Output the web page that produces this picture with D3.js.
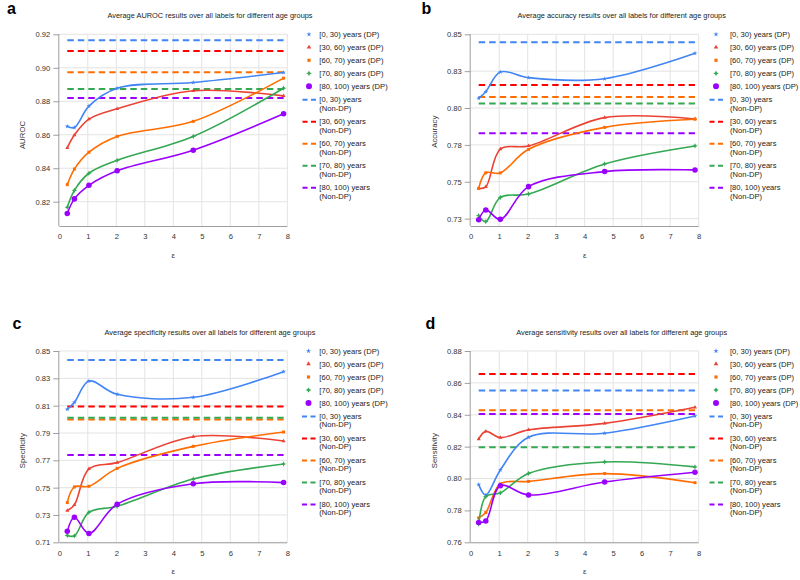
<!DOCTYPE html>
<html><head><meta charset="utf-8">
<script src="https://cdn.jsdelivr.net/npm/d3@7"></script>
<style>
html,body{margin:0;padding:0;background:#fff;}
svg{display:block;font-family:"Liberation Sans",Arial,sans-serif;}
</style></head>
<body><svg id="chart" width="800" height="580"></svg>
<script>
// ---------------- data ----------------
const epsilons = [0.28, 0.53, 1.04, 2.03, 4.70, 7.87];
const groups = ["[0, 30) years", "[30, 60) years", "[60, 70) years", "[70, 80) years", "[80, 100) years"];
const xTicks = [0, 1, 2, 3, 4, 5, 6, 7, 8];

// a: AUROC
const aurocDP0_30 = [0.8650, 0.8643, 0.8771, 0.8878, 0.8912, 0.8972];
const aurocDP30_60 = [0.8522, 0.8598, 0.8693, 0.8755, 0.8863, 0.8832];
const aurocDP60_70 = [0.8302, 0.8395, 0.8496, 0.8590, 0.8680, 0.8938];
const aurocDP70_80 = [0.8167, 0.8268, 0.8370, 0.8447, 0.8590, 0.8878];
const aurocDP80_100 = [0.8130, 0.8217, 0.8298, 0.8385, 0.8508, 0.8725];
const aurocNonDP = [0.9164, 0.9100, 0.8974, 0.8873, 0.8819];
const aurocTicks = [0.82, 0.84, 0.86, 0.88, 0.90, 0.92];
const aurocTickLabels = ["0.82", "0.84", "0.86", "0.88", "0.90", "0.92"];

// b: Accuracy
const accDP0_30 = [0.8066, 0.8111, 0.8245, 0.8206, 0.8199, 0.8371];
const accDP30_60 = [0.7455, 0.7466, 0.7722, 0.7743, 0.7935, 0.7926];
const accDP60_70 = [0.7455, 0.7561, 0.7560, 0.7720, 0.7869, 0.7924];
const accDP70_80 = [0.7270, 0.7230, 0.7394, 0.7417, 0.7621, 0.7743];
const accDP80_100 = [0.7243, 0.7309, 0.7245, 0.7467, 0.7569, 0.7580];
const accNonDP = [0.8446, 0.8156, 0.8075, 0.8030, 0.7829];
const accTicks = [0.725, 0.75, 0.775, 0.80, 0.825, 0.85];
const accTickLabels = ["0.73", "0.75", "0.78", "0.80", "0.83", "0.85"];

// c: Specificity
const specDP0_30 = [0.8073, 0.8124, 0.8280, 0.8183, 0.8161, 0.8349];
const specDP30_60 = [0.7332, 0.7374, 0.7637, 0.7683, 0.7873, 0.7841];
const specDP60_70 = [0.7391, 0.7505, 0.7510, 0.7641, 0.7802, 0.7907];
const specDP70_80 = [0.7150, 0.7147, 0.7320, 0.7364, 0.7563, 0.7673];
const specDP80_100 = [0.7180, 0.7283, 0.7165, 0.7379, 0.7529, 0.7537];
const specNonDP = [0.8434, 0.8093, 0.7998, 0.8012, 0.7739];
const specTicks = [0.71, 0.73, 0.75, 0.77, 0.79, 0.81, 0.83, 0.85];
const specTickLabels = ["0.71", "0.73", "0.75", "0.77", "0.79", "0.81", "0.83", "0.85"];

// d: Sensitivity
const sensDP0_30 = [0.7962, 0.7896, 0.8054, 0.8259, 0.8284, 0.8392];
const sensDP30_60 = [0.8248, 0.8296, 0.8257, 0.8305, 0.8346, 0.8447];
const sensDP60_70 = [0.7753, 0.7787, 0.7966, 0.7982, 0.8031, 0.7974];
const sensDP70_80 = [0.7714, 0.7887, 0.7910, 0.8032, 0.8104, 0.8073];
const sensDP80_100 = [0.7724, 0.7734, 0.7955, 0.7897, 0.7978, 0.8039];
const sensNonDP = [0.8553, 0.8656, 0.8428, 0.8196, 0.8405];
const sensTicks = [0.76, 0.78, 0.80, 0.82, 0.84, 0.86, 0.88];
const sensTickLabels = ["0.76", "0.78", "0.80", "0.82", "0.84", "0.86", "0.88"];

// ---------------- style ----------------
const dpColors = ["#4285f4", "#ea4335", "#ff6d01", "#34a853", "#9900ff"];
const nonDpColors = ["#4285f4", "#ff0000", "#ff6d01", "#34a853", "#9900ff"];

const sparkle = {
  draw(ctx, size) {
    const r = Math.sqrt(size) * 0.95, i = r * 0.32;
    ctx.moveTo(0, -r); ctx.lineTo(i, -i); ctx.lineTo(r, 0); ctx.lineTo(i, i);
    ctx.lineTo(0, r); ctx.lineTo(-i, i); ctx.lineTo(-r, 0); ctx.lineTo(-i, -i); ctx.closePath();
  }
};
const markerTypes = [d3.symbolStar, d3.symbolTriangle, d3.symbolSquare, sparkle, d3.symbolCircle];
const markerSizes = [7, 7, 9, 8, 24];
const legendMarkerSizes = [8, 9, 10, 9, 28];

const panels = [
  { letter: "a", lx: 7, ly: 13.5, title: "Average AUROC results over all labels for different age groups", tx: 210, ty: 18.3,
    yLabel: "AUROC", ylx: 22.7, yly: 135, left: 59.3, right: 287.3, top: 34.3, bottom: 226, yDomain: [0.8055, 0.92],
    ticks: aurocTicks, tickLabels: aurocTickLabels,
    dp: [aurocDP0_30, aurocDP30_60, aurocDP60_70, aurocDP70_80, aurocDP80_100], nondp: aurocNonDP,
    legMx: 309, legTx: 319.3, legY: 34.3 },
  { letter: "b", lx: 421.5, ly: 13.5, title: "Average accuracy results over all labels for different age groups", tx: 621.7, ty: 18.3,
    yLabel: "Accuracy", ylx: 434.3, yly: 131.7, left: 470.7, right: 698.7, top: 34.3, bottom: 226, yDomain: [0.72, 0.85],
    ticks: accTicks, tickLabels: accTickLabels,
    dp: [accDP0_30, accDP30_60, accDP60_70, accDP70_80, accDP80_100], nondp: accNonDP,
    legMx: 716, legTx: 730, legY: 34.3 },
  { letter: "c", lx: 12.5, ly: 328.5, title: "Average specificity results over all labels for different age groups", tx: 210, ty: 335,
    yLabel: "Specificity", ylx: 22.7, yly: 450.7, left: 59.3, right: 287.3, top: 351, bottom: 542.3, yDomain: [0.71, 0.85],
    ticks: specTicks, tickLabels: specTickLabels,
    dp: [specDP0_30, specDP30_60, specDP60_70, specDP70_80, specDP80_100], nondp: specNonDP,
    legMx: 308.5, legTx: 319.3, legY: 351 },
  { letter: "d", lx: 425.5, ly: 329.3, title: "Average sensitivity results over all labels for different age groups", tx: 621.7, ty: 335,
    yLabel: "Sensitivity", ylx: 434.3, yly: 450.7, left: 470.7, right: 698.7, top: 351, bottom: 542.3, yDomain: [0.76, 0.88],
    ticks: sensTicks, tickLabels: sensTickLabels,
    dp: [sensDP0_30, sensDP30_60, sensDP60_70, sensDP70_80, sensDP80_100], nondp: sensNonDP,
    legMx: 716, legTx: 730, legY: 351 }
];

const svg = d3.select("#chart");
const FS = 7.6;

panels.forEach(p => {
  const g = svg.append("g");
  const x = d3.scaleLinear().domain([0, 8]).range([p.left, p.right]);
  const y = d3.scaleLinear().domain(p.yDomain).range([p.bottom, p.top]);

  // panel letter
  g.append("text").attr("x", p.lx).attr("y", p.ly).attr("font-size", 16).attr("font-weight", "bold")
    .attr("fill", "#000").text(p.letter);
  // title
  g.append("text").attr("x", p.tx).attr("y", p.ty).attr("text-anchor", "middle").attr("font-size", 7.4)
    .attr("fill", "#222").text(p.title);

  // gridlines
  g.append("g").selectAll("line").data(xTicks.filter(d => d > 0)).join("line")
    .attr("x1", d => x(d)).attr("x2", d => x(d)).attr("y1", p.top).attr("y2", p.bottom)
    .attr("stroke", "#e3e3e3").attr("stroke-width", 1);
  g.append("g").selectAll("line").data(p.ticks).join("line")
    .attr("x1", p.left).attr("x2", p.right).attr("y1", d => y(d)).attr("y2", d => y(d))
    .attr("stroke", "#e3e3e3").attr("stroke-width", 1);

  // axes
  const yAxis = d3.axisLeft(y).tickValues(p.ticks).tickFormat((d, i) => p.tickLabels[i]).tickSize(6).tickPadding(3);
  const ya = g.append("g").attr("transform", `translate(${p.left},0)`).call(yAxis);
  const xAxis = d3.axisBottom(x).tickValues(xTicks).tickFormat(d => String(d)).tickSize(0).tickPadding(8);
  const xa = g.append("g").attr("transform", `translate(0,${p.bottom})`).call(xAxis);
  [ya, xa].forEach(a => {
    a.select(".domain").attr("stroke", "#9e9e9e").attr("stroke-width", 1);
    a.selectAll(".tick line").attr("stroke", "#9e9e9e");
    a.selectAll(".tick text").attr("font-size", FS).attr("fill", "#333").attr("font-family", "Liberation Sans, Arial, sans-serif");
  });
  ya.select(".domain").attr("d", `M-0.5,${p.top}V${p.bottom}`);
  xa.select(".domain").attr("d", `M${p.left},0.5H${p.right}`);

  // axis titles
  g.append("text").attr("x", (p.left + p.right) / 2).attr("y", p.bottom + 32).attr("text-anchor", "middle")
    .attr("font-size", 8).attr("fill", "#333").text("ε");
  g.append("text").attr("transform", `translate(${p.ylx},${p.yly}) rotate(-90)`).attr("text-anchor", "middle")
    .attr("dy", "0.35em").attr("font-size", 7.8).attr("fill", "#333").text(p.yLabel);

  // Non-DP dashed lines
  const x0 = d3.min(epsilons), x1 = d3.max(epsilons);
  g.append("g").selectAll("line").data(p.nondp).join("line")
    .attr("x1", x(x0)).attr("x2", x(x1)).attr("y1", d => y(d)).attr("y2", d => y(d))
    .attr("stroke", (d, i) => nonDpColors[i]).attr("stroke-width", 2).attr("stroke-dasharray", "6.5,4");

  // DP lines
  const line = d3.line().x((d, i) => x(epsilons[i])).y(d => y(d)).curve(d3.curveCatmullRom.alpha(0.5));
  p.dp.forEach((series, si) => {
    g.append("path").datum(series).attr("d", line).attr("fill", "none")
      .attr("stroke", dpColors[si]).attr("stroke-width", 1.6);
    g.append("g").selectAll("path").data(series).join("path")
      .attr("transform", (d, i) => `translate(${x(epsilons[i])},${y(d)})`)
      .attr("d", d3.symbol().type(markerTypes[si]).size(markerSizes[si]))
      .attr("fill", dpColors[si]);
  });

  // legend
  const leg = g.append("g");
  groups.forEach((grp, i) => {
    const yy = p.legY + i * 13;
    leg.append("path").attr("transform", `translate(${p.legMx},${yy})`)
      .attr("d", d3.symbol().type(markerTypes[i]).size(legendMarkerSizes[i])).attr("fill", dpColors[i]);
    leg.append("text").attr("x", p.legTx).attr("y", yy).attr("dy", "0.35em").attr("font-size", FS)
      .attr("fill", "#222").text(grp + " (DP)");
  });
  groups.forEach((grp, i) => {
    const yy = p.legY + 65.4 + i * 22;
    leg.append("line").attr("x1", p.legMx - 6.5).attr("x2", p.legMx + 7).attr("y1", yy).attr("y2", yy)
      .attr("stroke", nonDpColors[i]).attr("stroke-width", 2).attr("stroke-dasharray", "5,3.5");
    leg.append("text").attr("x", p.legTx).attr("y", yy).attr("dy", "0.35em").attr("font-size", FS)
      .attr("fill", "#222").text(grp);
    leg.append("text").attr("x", p.legTx).attr("y", yy + 8.2).attr("dy", "0.35em").attr("font-size", FS)
      .attr("fill", "#222").text("(Non-DP)");
  });
});
</script>
</body></html>
